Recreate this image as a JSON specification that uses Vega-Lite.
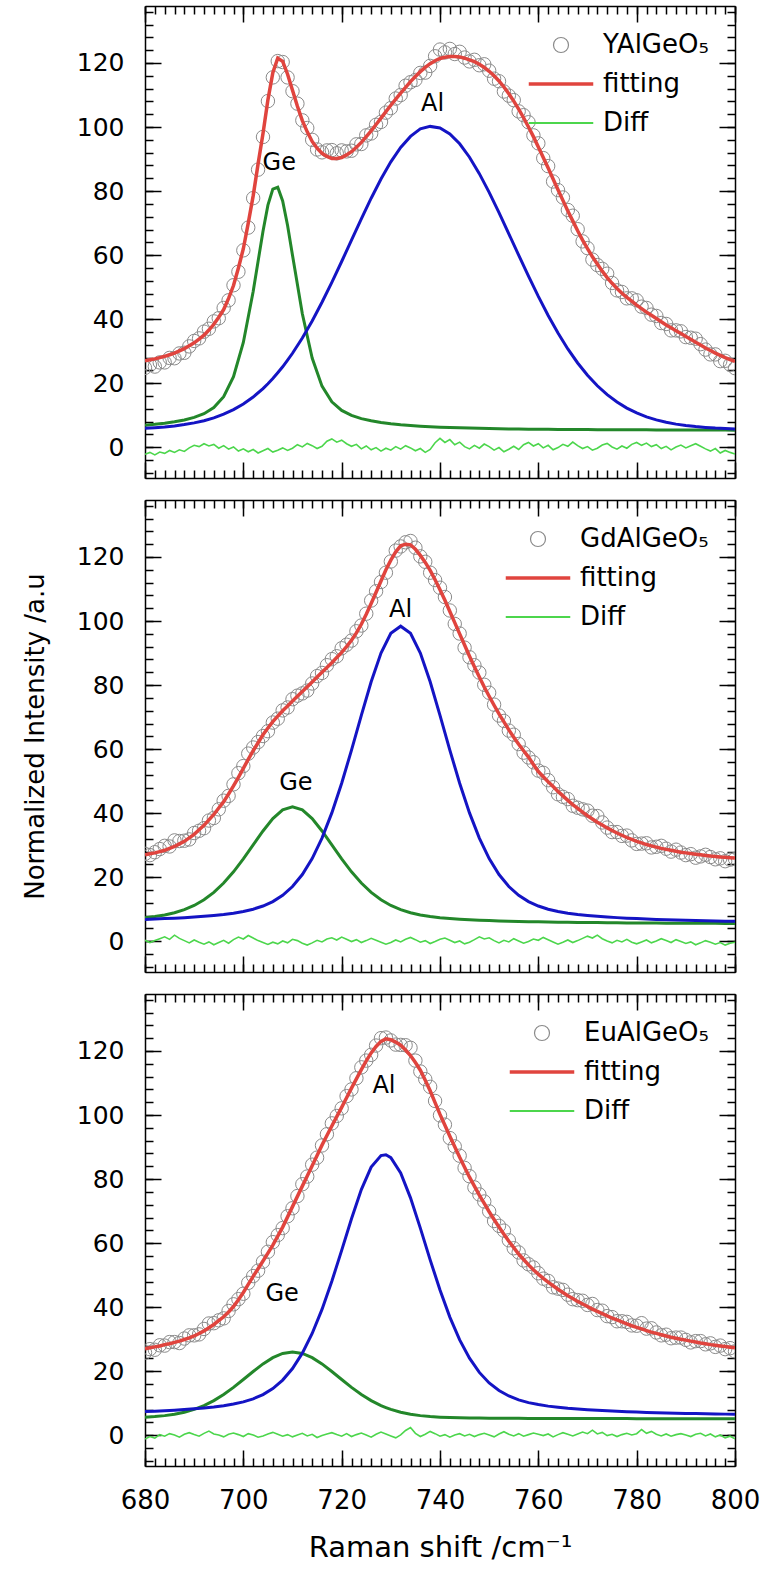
{
"$schema":"https://vega.github.io/schema/vega-lite/v6.json",
"background":"white",
"padding":{"left":22,"top":5,"right":5,"bottom":5},
"config":{
 "view":{"stroke":null},
 "font":"DejaVu Sans",
 "axis":{"domainColor":"#000","domainWidth":1.5,"tickColor":"#000","tickWidth":1.5,"grid":false,"labelFont":"DejaVu Sans","labelColor":"#000","titleFont":"DejaVu Sans","titleColor":"#000","titleFontWeight":"normal","labelFlush":false,"labelOverlap":false},
 "legend":{"labelFont":"DejaVu Sans","labelColor":"#000"}
},
"datasets":{
"p1":[
{"x":680,"o":24.8,"f":27.0,"d":-2.2},{"x":681,"o":25.7,"f":27.3,"d":-1.6},{"x":682,"o":25.2,"f":27.6,"d":-2.4},{"x":683,"o":26.5,"f":28.0,"d":-1.5},{"x":684,"o":26.5,"f":28.4,"d":-1.9},{"x":685,"o":27.9,"f":28.9,"d":-1.0},{"x":686,"o":27.8,"f":29.4,"d":-1.6},{"x":687,"o":29.3,"f":30.1,"d":-0.8},{"x":688,"o":29.5,"f":30.8,"d":-1.3},{"x":689,"o":31.5,"f":31.7,"d":-0.2},
{"x":690,"o":33.2,"f":32.6,"d":0.6},{"x":691,"o":34.0,"f":33.8,"d":0.2},{"x":692,"o":36.1,"f":35.0,"d":1.1},{"x":693,"o":37.0,"f":36.6,"d":0.4},{"x":694,"o":39.3,"f":38.4,"d":0.9},{"x":695,"o":40.3,"f":40.6,"d":-0.3},{"x":696,"o":43.5,"f":43.0,"d":0.5},{"x":697,"o":45.9,"f":46.5,"d":-0.6},{"x":698,"o":50.6,"f":50.5,"d":0.1},{"x":699,"o":54.8,"f":56.0,"d":-1.2},
{"x":700,"o":61.5,"f":62.0,"d":-0.5},{"x":701,"o":68.6,"f":70.0,"d":-1.4},{"x":702,"o":77.8,"f":78.5,"d":-0.7},{"x":703,"o":86.7,"f":88.5,"d":-1.8},{"x":704,"o":96.9,"f":98.0,"d":-1.1},{"x":705,"o":108.1,"f":108.5,"d":-0.4},{"x":706,"o":115.5,"f":117.0,"d":-1.5},{"x":707,"o":120.6,"f":121.5,"d":-0.9},{"x":708,"o":120.3,"f":120.5,"d":-0.2},{"x":709,"o":115.5,"f":116.5,"d":-1.0},
{"x":710,"o":111.2,"f":111.5,"d":-0.3},{"x":711,"o":107.3,"f":106.5,"d":0.8},{"x":712,"o":102.1,"f":102.0,"d":0.1},{"x":713,"o":99.7,"f":98.5,"d":1.2},{"x":714,"o":96.0,"f":95.5,"d":0.5},{"x":715,"o":93.0,"f":93.4,"d":-0.4},{"x":716,"o":92.1,"f":91.8,"d":0.3},{"x":717,"o":92.7,"f":90.8,"d":1.9},{"x":718,"o":92.8,"f":90.2,"d":2.6},{"x":719,"o":91.8,"f":90.2,"d":1.6},
{"x":720,"o":92.7,"f":90.5,"d":2.2},{"x":721,"o":92.4,"f":91.3,"d":1.1},{"x":722,"o":92.6,"f":92.3,"d":0.3},{"x":723,"o":94.6,"f":93.7,"d":0.9},{"x":724,"o":94.7,"f":95.2,"d":-0.5},{"x":725,"o":97.4,"f":97.0,"d":0.4},{"x":726,"o":98.0,"f":98.8,"d":-0.8},{"x":727,"o":100.7,"f":100.8,"d":-0.1},{"x":728,"o":101.6,"f":102.8,"d":-1.2},{"x":729,"o":104.5,"f":104.8,"d":-0.3},
{"x":730,"o":105.9,"f":106.8,"d":-0.9},{"x":731,"o":108.9,"f":108.7,"d":0.2},{"x":732,"o":110.0,"f":110.6,"d":-0.6},{"x":733,"o":112.9,"f":112.4,"d":0.5},{"x":734,"o":114.0,"f":114.2,"d":-0.2},{"x":735,"o":114.7,"f":115.8,"d":-1.1},{"x":736,"o":116.9,"f":117.3,"d":-0.4},{"x":737,"o":117.0,"f":118.6,"d":-1.6},{"x":738,"o":119.1,"f":119.8,"d":-0.7},{"x":739,"o":122.1,"f":120.7,"d":1.4},
{"x":740,"o":124.2,"f":121.4,"d":2.8},{"x":741,"o":123.3,"f":121.8,"d":1.5},{"x":742,"o":124.4,"f":122.0,"d":2.4},{"x":743,"o":122.8,"f":122.0,"d":0.8},{"x":744,"o":123.5,"f":121.9,"d":1.6},{"x":745,"o":121.7,"f":121.5,"d":0.2},{"x":746,"o":120.5,"f":121.0,"d":-0.5},{"x":747,"o":121.0,"f":120.4,"d":0.6},{"x":748,"o":119.3,"f":119.6,"d":-0.3},{"x":749,"o":119.6,"f":118.6,"d":1.0},
{"x":750,"o":117.6,"f":117.4,"d":0.2},{"x":751,"o":115.1,"f":116.0,"d":-0.9},{"x":752,"o":114.3,"f":114.4,"d":-0.1},{"x":753,"o":111.1,"f":112.5,"d":-1.4},{"x":754,"o":109.8,"f":110.4,"d":-0.6},{"x":755,"o":108.4,"f":108.1,"d":0.3},{"x":756,"o":104.9,"f":105.6,"d":-0.7},{"x":757,"o":103.7,"f":102.9,"d":0.8},{"x":758,"o":101.5,"f":100.0,"d":1.5},{"x":759,"o":97.4,"f":97.0,"d":0.4},
{"x":760,"o":94.9,"f":93.8,"d":1.1},{"x":761,"o":90.3,"f":90.5,"d":-0.2},{"x":762,"o":87.8,"f":87.2,"d":0.6},{"x":763,"o":83.0,"f":83.8,"d":-0.8},{"x":764,"o":80.3,"f":80.4,"d":-0.1},{"x":765,"o":78.0,"f":77.1,"d":0.9},{"x":766,"o":74.1,"f":73.8,"d":0.3},{"x":767,"o":72.3,"f":70.7,"d":1.6},{"x":768,"o":68.1,"f":67.6,"d":0.5},{"x":769,"o":64.3,"f":64.7,"d":-0.4},
{"x":770,"o":62.2,"f":62.0,"d":0.2},{"x":771,"o":58.6,"f":59.5,"d":-0.9},{"x":772,"o":56.9,"f":57.2,"d":-0.3},{"x":773,"o":55.7,"f":55.0,"d":0.7},{"x":774,"o":54.2,"f":53.0,"d":1.2},{"x":775,"o":51.3,"f":51.2,"d":0.1},{"x":776,"o":49.0,"f":49.6,"d":-0.6},{"x":777,"o":48.5,"f":48.1,"d":0.4},{"x":778,"o":46.5,"f":46.8,"d":-0.3},{"x":779,"o":46.5,"f":45.6,"d":0.9},
{"x":780,"o":45.9,"f":44.4,"d":1.5},{"x":781,"o":43.9,"f":43.3,"d":0.6},{"x":782,"o":43.5,"f":42.2,"d":1.3},{"x":783,"o":41.4,"f":41.2,"d":0.2},{"x":784,"o":41.0,"f":40.2,"d":0.8},{"x":785,"o":38.8,"f":39.2,"d":-0.4},{"x":786,"o":38.5,"f":38.2,"d":0.3},{"x":787,"o":36.5,"f":37.3,"d":-0.8},{"x":788,"o":36.5,"f":36.4,"d":0.1},{"x":789,"o":36.2,"f":35.5,"d":0.7},
{"x":790,"o":34.4,"f":34.6,"d":-0.2},{"x":791,"o":34.2,"f":33.7,"d":0.5},{"x":792,"o":33.9,"f":32.8,"d":1.1},{"x":793,"o":32.2,"f":31.9,"d":0.3},{"x":794,"o":30.5,"f":31.0,"d":-0.5},{"x":795,"o":29.0,"f":30.2,"d":-1.2},{"x":796,"o":29.0,"f":29.4,"d":-0.4},{"x":797,"o":26.9,"f":28.7,"d":-1.8},{"x":798,"o":27.0,"f":28.0,"d":-1.0},{"x":799,"o":25.8,"f":27.4,"d":-1.6},
{"x":800,"o":24.7,"f":26.8,"d":-2.1}
],
"c1":[
{"x":680,"g":6.89,"a":5.94},{"x":682,"g":7.16,"a":6.12},{"x":684,"g":7.50,"a":6.36},{"x":686,"g":7.94,"a":6.67},{"x":688,"g":8.53,"a":7.08},{"x":690,"g":9.32,"a":7.61},{"x":692,"g":10.49,"a":8.30},{"x":694,"g":12.38,"a":9.19},{"x":696,"g":15.79,"a":10.32},{"x":698,"g":22.03,"a":11.75},
{"x":700,"g":32.71,"a":13.51},{"x":702,"g":48.63,"a":15.69},{"x":704,"g":67.49,"a":18.33},{"x":705,"g":75.6,"a":19.85},{"x":706,"g":80.63,"a":21.45},{"x":707,"g":81.2,"a":23.25},{"x":708,"g":76.91,"a":25.13},{"x":709,"g":69.28,"a":27.2},{"x":710,"g":59.97,"a":29.35},{"x":712,"g":41.69,"a":34.13},
{"x":714,"g":27.84,"a":39.46},{"x":716,"g":19.09,"a":45.28},{"x":718,"g":14.17,"a":51.5},{"x":720,"g":11.5,"a":58.01},{"x":722,"g":9.95,"a":64.68},{"x":724,"g":8.95,"a":71.33},{"x":726,"g":8.27,"a":77.77},{"x":728,"g":7.75,"a":83.76},{"x":730,"g":7.36,"a":89.13},{"x":732,"g":7.04,"a":93.63},
{"x":734,"g":6.79,"a":97.08},{"x":736,"g":6.59,"a":99.42},{"x":738,"g":6.42,"a":100.2},{"x":740,"g":6.28,"a":99.7},{"x":742,"g":6.17,"a":97.87},{"x":744,"g":6.07,"a":94.78},{"x":746,"g":5.98,"a":90.58},{"x":748,"g":5.91,"a":85.44},{"x":750,"g":5.85,"a":79.61},{"x":752,"g":5.79,"a":73.28},
{"x":754,"g":5.74,"a":66.67},{"x":756,"g":5.70,"a":60.01},{"x":758,"g":5.66,"a":53.43},{"x":760,"g":5.63,"a":47.1},{"x":762,"g":5.60,"a":41.15},{"x":764,"g":5.58,"a":35.67},{"x":766,"g":5.55,"a":30.7},{"x":768,"g":5.53,"a":26.32},{"x":770,"g":5.51,"a":22.49},{"x":772,"g":5.50,"a":19.21},
{"x":774,"g":5.48,"a":16.43},{"x":776,"g":5.47,"a":14.12},{"x":778,"g":5.45,"a":12.23},{"x":780,"g":5.44,"a":10.71},{"x":782,"g":5.43,"a":9.49},{"x":784,"g":5.42,"a":8.54},{"x":786,"g":5.41,"a":7.79},{"x":788,"g":5.40,"a":7.22},{"x":790,"g":5.39,"a":6.78},{"x":792,"g":5.38,"a":6.45},
{"x":794,"g":5.37,"a":6.2},{"x":796,"g":5.37,"a":5.99},{"x":798,"g":5.36,"a":5.85},{"x":800,"g":5.35,"a":5.73}
],
"p2":[
{"x":680,"o":27.3,"f":27.0,"d":0.3},{"x":681,"o":26.9,"f":27.3,"d":-0.4},{"x":682,"o":27.8,"f":27.6,"d":0.2},{"x":683,"o":28.8,"f":28.0,"d":0.8},{"x":684,"o":29.8,"f":28.4,"d":1.4},{"x":685,"o":29.6,"f":29.0,"d":0.6},{"x":686,"o":31.5,"f":29.6,"d":1.9},{"x":687,"o":31.3,"f":30.4,"d":0.9},{"x":688,"o":31.4,"f":31.2,"d":0.2},{"x":689,"o":31.8,"f":32.3,"d":-0.5},
{"x":690,"o":33.8,"f":33.4,"d":0.4},{"x":691,"o":34.5,"f":34.8,"d":-0.3},{"x":692,"o":35.3,"f":36.2,"d":-0.9},{"x":693,"o":37.7,"f":37.9,"d":-0.2},{"x":694,"o":38.5,"f":39.6,"d":-1.1},{"x":695,"o":41.2,"f":41.6,"d":-0.4},{"x":696,"o":43.9,"f":43.6,"d":0.3},{"x":697,"o":45.4,"f":46.0,"d":-0.6},{"x":698,"o":49.0,"f":48.5,"d":0.5},{"x":699,"o":52.5,"f":51.2,"d":1.3},
{"x":700,"o":54.7,"f":54.0,"d":0.7},{"x":701,"o":58.6,"f":56.8,"d":1.8},{"x":702,"o":60.5,"f":59.5,"d":1.0},{"x":703,"o":62.2,"f":62.0,"d":0.2},{"x":704,"o":64.1,"f":64.5,"d":-0.4},{"x":705,"o":65.6,"f":66.6,"d":-1.0},{"x":706,"o":68.3,"f":68.6,"d":-0.3},{"x":707,"o":69.5,"f":70.3,"d":-0.8},{"x":708,"o":72.1,"f":72.0,"d":0.1},{"x":709,"o":73.0,"f":73.5,"d":-0.5},
{"x":710,"o":75.6,"f":75.0,"d":0.6},{"x":711,"o":76.7,"f":76.5,"d":0.2},{"x":712,"o":77.4,"f":78.0,"d":-0.6},{"x":713,"o":78.3,"f":79.5,"d":-1.2},{"x":714,"o":80.5,"f":81.0,"d":-0.5},{"x":715,"o":82.8,"f":82.5,"d":0.3},{"x":716,"o":83.8,"f":84.0,"d":-0.2},{"x":717,"o":86.2,"f":85.5,"d":0.7},{"x":718,"o":88.1,"f":87.0,"d":1.1},{"x":719,"o":89.0,"f":88.6,"d":0.4},
{"x":720,"o":91.5,"f":90.2,"d":1.3},{"x":721,"o":92.6,"f":92.0,"d":0.6},{"x":722,"o":93.9,"f":94.0,"d":-0.1},{"x":723,"o":96.8,"f":96.3,"d":0.5},{"x":724,"o":98.6,"f":99.0,"d":-0.4},{"x":725,"o":102.3,"f":102.1,"d":0.2},{"x":726,"o":106.4,"f":105.5,"d":0.9},{"x":727,"o":109.3,"f":109.0,"d":0.3},{"x":728,"o":112.2,"f":112.5,"d":-0.3},{"x":729,"o":115.1,"f":116.0,"d":-0.9},
{"x":730,"o":118.6,"f":119.0,"d":-0.4},{"x":731,"o":122.0,"f":121.6,"d":0.4},{"x":732,"o":123.3,"f":123.5,"d":-0.2},{"x":733,"o":124.6,"f":124.0,"d":0.6},{"x":734,"o":125.0,"f":123.8,"d":1.2},{"x":735,"o":122.9,"f":122.4,"d":0.5},{"x":736,"o":120.2,"f":120.5,"d":-0.3},{"x":737,"o":118.5,"f":118.3,"d":0.2},{"x":738,"o":115.1,"f":115.8,"d":-0.7},{"x":739,"o":112.8,"f":112.9,"d":-0.1},
{"x":740,"o":110.4,"f":109.8,"d":0.6},{"x":741,"o":107.5,"f":106.5,"d":1.0},{"x":742,"o":103.3,"f":103.0,"d":0.3},{"x":743,"o":99.1,"f":99.5,"d":-0.4},{"x":744,"o":96.1,"f":96.0,"d":0.1},{"x":745,"o":91.7,"f":92.5,"d":-0.8},{"x":746,"o":88.7,"f":89.0,"d":-0.3},{"x":747,"o":86.2,"f":85.7,"d":0.5},{"x":748,"o":83.9,"f":82.5,"d":1.4},{"x":749,"o":80.1,"f":79.4,"d":0.7},
{"x":750,"o":77.6,"f":76.5,"d":1.1},{"x":751,"o":73.9,"f":73.7,"d":0.2},{"x":752,"o":70.5,"f":71.0,"d":-0.5},{"x":753,"o":68.8,"f":68.5,"d":0.3},{"x":754,"o":65.8,"f":66.0,"d":-0.2},{"x":755,"o":64.5,"f":63.7,"d":0.8},{"x":756,"o":61.6,"f":61.5,"d":0.1},{"x":757,"o":58.9,"f":59.5,"d":-0.6},{"x":758,"o":57.4,"f":57.5,"d":-0.1},{"x":759,"o":55.9,"f":55.2,"d":0.7},
{"x":760,"o":53.3,"f":53.0,"d":0.3},{"x":761,"o":52.6,"f":51.4,"d":1.2},{"x":762,"o":50.3,"f":49.8,"d":0.5},{"x":763,"o":48.1,"f":48.3,"d":-0.2},{"x":764,"o":45.9,"f":46.8,"d":-0.9},{"x":765,"o":45.1,"f":45.4,"d":-0.3},{"x":766,"o":44.4,"f":44.0,"d":0.4},{"x":767,"o":42.3,"f":42.7,"d":-0.4},{"x":768,"o":41.7,"f":41.5,"d":0.2},{"x":769,"o":41.2,"f":40.3,"d":0.9},
{"x":770,"o":40.8,"f":39.2,"d":1.6},{"x":771,"o":39.2,"f":38.2,"d":1.0},{"x":772,"o":39.1,"f":37.2,"d":1.9},{"x":773,"o":37.1,"f":36.3,"d":0.8},{"x":774,"o":35.5,"f":35.4,"d":0.1},{"x":775,"o":34.1,"f":34.6,"d":-0.5},{"x":776,"o":34.1,"f":33.8,"d":0.3},{"x":777,"o":32.9,"f":33.1,"d":-0.2},{"x":778,"o":33.0,"f":32.4,"d":0.6},{"x":779,"o":31.5,"f":31.8,"d":-0.3},
{"x":780,"o":30.4,"f":31.2,"d":-0.8},{"x":781,"o":30.5,"f":30.7,"d":-0.2},{"x":782,"o":30.6,"f":30.2,"d":0.4},{"x":783,"o":29.3,"f":29.8,"d":-0.5},{"x":784,"o":29.5,"f":29.4,"d":0.1},{"x":785,"o":29.8,"f":29.0,"d":0.8},{"x":786,"o":28.9,"f":28.7,"d":0.2},{"x":787,"o":28.0,"f":28.4,"d":-0.4},{"x":788,"o":28.6,"f":28.1,"d":0.5},{"x":789,"o":27.7,"f":27.8,"d":-0.1},
{"x":790,"o":26.9,"f":27.6,"d":-0.7},{"x":791,"o":27.2,"f":27.4,"d":-0.2},{"x":792,"o":26.1,"f":27.2,"d":-1.1},{"x":793,"o":26.5,"f":27.0,"d":-0.5},{"x":794,"o":27.0,"f":26.8,"d":0.2},{"x":795,"o":26.3,"f":26.6,"d":-0.3},{"x":796,"o":25.6,"f":26.5,"d":-0.9},{"x":797,"o":25.9,"f":26.3,"d":-0.4},{"x":798,"o":25.0,"f":26.2,"d":-1.2},{"x":799,"o":25.5,"f":26.1,"d":-0.6},
{"x":800,"o":25.7,"f":26.0,"d":-0.3}
],
"c2":[
{"x":680,"g":7.37,"a":6.82},{"x":682,"g":7.74,"a":6.94},{"x":684,"g":8.23,"a":7.07},{"x":686,"g":8.91,"a":7.22},{"x":688,"g":9.87,"a":7.38},{"x":690,"g":11.18,"a":7.57},{"x":692,"g":12.95,"a":7.79},{"x":694,"g":15.26,"a":8.07},{"x":696,"g":18.17,"a":8.38},{"x":698,"g":21.69,"a":8.78},
{"x":700,"g":25.73,"a":9.31},{"x":702,"g":30.09,"a":10.01},{"x":704,"g":34.45,"a":11.0},{"x":706,"g":38.3,"a":12.39},{"x":708,"g":41.01,"a":14.34},{"x":710,"g":42.0,"a":17.09},{"x":712,"g":41.01,"a":20.83},{"x":714,"g":38.3,"a":25.83},{"x":716,"g":34.45,"a":32.22},{"x":718,"g":30.09,"a":40.09},
{"x":720,"g":25.73,"a":49.35},{"x":722,"g":21.69,"a":59.69},{"x":724,"g":18.17,"a":70.54},{"x":726,"g":15.26,"a":81.03},{"x":728,"g":12.95,"a":90.01},{"x":730,"g":11.18,"a":96.19},{"x":732,"g":9.87,"a":98.4},{"x":734,"g":8.91,"a":96.19},{"x":736,"g":8.23,"a":90.01},{"x":738,"g":7.74,"a":81.03},
{"x":740,"g":7.37,"a":70.54},{"x":742,"g":7.10,"a":59.69},{"x":744,"g":6.89,"a":49.35},{"x":746,"g":6.72,"a":40.09},{"x":748,"g":6.58,"a":32.22},{"x":750,"g":6.46,"a":25.83},{"x":752,"g":6.36,"a":20.83},{"x":754,"g":6.27,"a":17.09},{"x":756,"g":6.19,"a":14.34},{"x":758,"g":6.12,"a":12.39},
{"x":760,"g":6.06,"a":11.0},{"x":762,"g":6.01,"a":10.01},{"x":764,"g":5.96,"a":9.31},{"x":766,"g":5.92,"a":8.78},{"x":768,"g":5.88,"a":8.38},{"x":770,"g":5.85,"a":8.07},{"x":772,"g":5.82,"a":7.79},{"x":774,"g":5.79,"a":7.57},{"x":776,"g":5.76,"a":7.38},{"x":778,"g":5.74,"a":7.22},
{"x":780,"g":5.72,"a":7.07},{"x":782,"g":5.70,"a":6.94},{"x":784,"g":5.68,"a":6.82},{"x":786,"g":5.66,"a":6.71},{"x":788,"g":5.64,"a":6.62},{"x":790,"g":5.63,"a":6.53},{"x":792,"g":5.62,"a":6.46},{"x":794,"g":5.60,"a":6.39},{"x":796,"g":5.59,"a":6.33},{"x":798,"g":5.58,"a":6.27},
{"x":800,"g":5.57,"a":6.22}
],
"p3":[
{"x":680,"o":25.8,"f":27.0,"d":-1.2},{"x":681,"o":26.9,"f":27.3,"d":-0.4},{"x":682,"o":26.7,"f":27.6,"d":-0.9},{"x":683,"o":28.1,"f":27.9,"d":0.2},{"x":684,"o":28.0,"f":28.3,"d":-0.3},{"x":685,"o":29.1,"f":28.6,"d":0.5},{"x":686,"o":29.1,"f":29.0,"d":0.1},{"x":687,"o":28.8,"f":29.4,"d":-0.6},{"x":688,"o":30.2,"f":29.9,"d":0.3},{"x":689,"o":31.2,"f":30.4,"d":0.8},
{"x":690,"o":31.2,"f":31.0,"d":0.2},{"x":691,"o":31.5,"f":31.8,"d":-0.3},{"x":692,"o":33.2,"f":32.6,"d":0.6},{"x":693,"o":34.9,"f":33.6,"d":1.3},{"x":694,"o":35.0,"f":34.6,"d":0.4},{"x":695,"o":35.9,"f":35.8,"d":0.1},{"x":696,"o":36.5,"f":37.0,"d":-0.5},{"x":697,"o":38.8,"f":38.5,"d":0.3},{"x":698,"o":40.9,"f":40.2,"d":0.7},{"x":699,"o":42.5,"f":42.3,"d":0.2},
{"x":700,"o":44.2,"f":44.6,"d":-0.4},{"x":701,"o":47.6,"f":47.1,"d":0.5},{"x":702,"o":49.7,"f":49.6,"d":0.1},{"x":703,"o":51.4,"f":52.0,"d":-0.6},{"x":704,"o":54.2,"f":54.4,"d":-0.2},{"x":705,"o":57.3,"f":56.9,"d":0.4},{"x":706,"o":60.3,"f":59.4,"d":0.9},{"x":707,"o":62.5,"f":62.2,"d":0.3},{"x":708,"o":64.7,"f":65.0,"d":-0.3},{"x":709,"o":68.4,"f":68.2,"d":0.2},
{"x":710,"o":70.9,"f":71.4,"d":-0.5},{"x":711,"o":74.7,"f":74.6,"d":0.1},{"x":712,"o":78.4,"f":77.8,"d":0.6},{"x":713,"o":80.8,"f":81.0,"d":-0.2},{"x":714,"o":84.5,"f":84.2,"d":0.3},{"x":715,"o":86.7,"f":87.4,"d":-0.7},{"x":716,"o":90.5,"f":90.6,"d":-0.1},{"x":717,"o":94.0,"f":93.6,"d":0.4},{"x":718,"o":97.4,"f":96.6,"d":0.8},{"x":719,"o":99.7,"f":99.5,"d":0.2},
{"x":720,"o":102.1,"f":102.4,"d":-0.3},{"x":721,"o":105.9,"f":105.4,"d":0.5},{"x":722,"o":108.0,"f":108.4,"d":-0.4},{"x":723,"o":111.5,"f":111.3,"d":0.2},{"x":724,"o":114.9,"f":114.2,"d":0.7},{"x":725,"o":117.0,"f":116.9,"d":0.1},{"x":726,"o":118.8,"f":119.4,"d":-0.6},{"x":727,"o":121.7,"f":121.4,"d":0.3},{"x":728,"o":124.0,"f":123.0,"d":1.0},{"x":729,"o":124.2,"f":123.8,"d":0.4},
{"x":730,"o":123.3,"f":123.5,"d":-0.2},{"x":731,"o":122.0,"f":122.8,"d":-0.8},{"x":732,"o":121.9,"f":121.8,"d":0.1},{"x":733,"o":121.8,"f":120.3,"d":1.5},{"x":734,"o":121.0,"f":118.6,"d":2.4},{"x":735,"o":117.0,"f":116.4,"d":0.6},{"x":736,"o":113.6,"f":114.0,"d":-0.4},{"x":737,"o":111.2,"f":110.9,"d":0.3},{"x":738,"o":108.8,"f":107.6,"d":1.2},{"x":739,"o":104.4,"f":103.9,"d":0.5},
{"x":740,"o":99.9,"f":100.2,"d":-0.3},{"x":741,"o":97.0,"f":96.8,"d":0.2},{"x":742,"o":92.8,"f":93.4,"d":-0.6},{"x":743,"o":90.2,"f":90.1,"d":0.1},{"x":744,"o":87.3,"f":86.8,"d":0.5},{"x":745,"o":83.5,"f":83.7,"d":-0.2},{"x":746,"o":80.9,"f":80.6,"d":0.3},{"x":747,"o":77.4,"f":77.8,"d":-0.4},{"x":748,"o":75.2,"f":75.0,"d":0.2},{"x":749,"o":73.0,"f":72.4,"d":0.6},
{"x":750,"o":69.9,"f":69.8,"d":0.1},{"x":751,"o":66.9,"f":67.4,"d":-0.5},{"x":752,"o":65.4,"f":65.0,"d":0.4},{"x":753,"o":63.9,"f":62.8,"d":1.1},{"x":754,"o":60.9,"f":60.6,"d":0.3},{"x":755,"o":58.4,"f":58.6,"d":-0.2},{"x":756,"o":57.1,"f":56.6,"d":0.5},{"x":757,"o":54.6,"f":54.9,"d":-0.3},{"x":758,"o":53.4,"f":53.2,"d":0.2},{"x":759,"o":52.4,"f":51.7,"d":0.7},
{"x":760,"o":50.6,"f":50.3,"d":0.3},{"x":761,"o":48.9,"f":49.0,"d":-0.1},{"x":762,"o":48.2,"f":47.8,"d":0.4},{"x":763,"o":46.2,"f":46.7,"d":-0.5},{"x":764,"o":45.8,"f":45.6,"d":0.2},{"x":765,"o":45.4,"f":44.6,"d":0.8},{"x":766,"o":43.9,"f":43.6,"d":0.3},{"x":767,"o":42.5,"f":42.7,"d":-0.2},{"x":768,"o":42.2,"f":41.8,"d":0.4},{"x":769,"o":42.0,"f":41.0,"d":1.0},
{"x":770,"o":40.7,"f":40.2,"d":0.5},{"x":771,"o":41.0,"f":39.4,"d":1.6},{"x":772,"o":39.1,"f":38.7,"d":0.4},{"x":773,"o":38.9,"f":38.0,"d":0.9},{"x":774,"o":37.2,"f":37.3,"d":-0.1},{"x":775,"o":36.9,"f":36.6,"d":0.3},{"x":776,"o":35.6,"f":36.0,"d":-0.4},{"x":777,"o":35.6,"f":35.4,"d":0.2},{"x":778,"o":35.4,"f":34.8,"d":0.6},{"x":779,"o":34.3,"f":34.2,"d":0.1},
{"x":780,"o":34.2,"f":33.7,"d":0.5},{"x":781,"o":35.0,"f":33.2,"d":1.8},{"x":782,"o":33.3,"f":32.7,"d":0.6},{"x":783,"o":33.4,"f":32.2,"d":1.2},{"x":784,"o":32.1,"f":31.8,"d":0.3},{"x":785,"o":31.2,"f":31.4,"d":-0.2},{"x":786,"o":31.4,"f":31.0,"d":0.4},{"x":787,"o":30.3,"f":30.6,"d":-0.3},{"x":788,"o":30.5,"f":30.3,"d":0.2},{"x":789,"o":30.5,"f":30.0,"d":0.5},
{"x":790,"o":29.8,"f":29.7,"d":0.1},{"x":791,"o":29.0,"f":29.4,"d":-0.4},{"x":792,"o":29.4,"f":29.1,"d":0.3},{"x":793,"o":29.4,"f":28.8,"d":0.6},{"x":794,"o":28.4,"f":28.6,"d":-0.2},{"x":795,"o":28.7,"f":28.3,"d":0.4},{"x":796,"o":27.6,"f":28.1,"d":-0.5},{"x":797,"o":28.0,"f":27.9,"d":0.1},{"x":798,"o":26.9,"f":27.7,"d":-0.8},{"x":799,"o":27.2,"f":27.5,"d":-0.3},
{"x":800,"o":26.2,"f":27.3,"d":-1.1}
],
"c3":[
{"x":680,"g":5.66,"a":7.39},{"x":682,"g":5.84,"a":7.52},{"x":684,"g":6.13,"a":7.67},{"x":686,"g":6.55,"a":7.84},{"x":688,"g":7.18,"a":8.03},{"x":690,"g":8.06,"a":8.25},{"x":692,"g":9.26,"a":8.52},{"x":694,"g":10.81,"a":8.83},{"x":696,"g":12.72,"a":9.24},{"x":698,"g":14.95,"a":9.74},
{"x":700,"g":17.41,"a":10.43},{"x":702,"g":19.92,"a":11.37},{"x":704,"g":22.28,"a":12.7},{"x":706,"g":24.23,"a":14.59},{"x":708,"g":25.54,"a":17.23},{"x":710,"g":26.0,"a":20.83},{"x":712,"g":25.54,"a":25.64},{"x":714,"g":24.23,"a":31.78},{"x":716,"g":22.28,"a":39.31},{"x":718,"g":19.92,"a":48.09},
{"x":720,"g":17.41,"a":57.74},{"x":722,"g":14.95,"a":67.62},{"x":724,"g":12.72,"a":76.71},{"x":726,"g":10.81,"a":83.74},{"x":728,"g":9.26,"a":87.33},{"x":729,"g":8.65,"a":87.6},{"x":730,"g":8.06,"a":86.68},{"x":732,"g":7.18,"a":81.93},{"x":734,"g":6.55,"a":74.14},{"x":736,"g":6.13,"a":64.68},
{"x":738,"g":5.84,"a":54.78},{"x":740,"g":5.66,"a":45.35},{"x":742,"g":5.54,"a":36.9},{"x":744,"g":5.46,"a":29.78},{"x":746,"g":5.41,"a":24.06},{"x":748,"g":5.37,"a":19.63},{"x":750,"g":5.34,"a":16.34},{"x":752,"g":5.32,"a":13.96},{"x":754,"g":5.30,"a":12.26},{"x":756,"g":5.28,"a":11.06},
{"x":758,"g":5.27,"a":10.2},{"x":760,"g":5.26,"a":9.58},{"x":762,"g":5.25,"a":9.1},{"x":764,"g":5.24,"a":8.73},{"x":766,"g":5.23,"a":8.42},{"x":768,"g":5.22,"a":8.18},{"x":770,"g":5.22,"a":7.97},{"x":772,"g":5.21,"a":7.79},{"x":774,"g":5.21,"a":7.62},{"x":776,"g":5.20,"a":7.48},
{"x":778,"g":5.20,"a":7.35},{"x":780,"g":5.19,"a":7.24},{"x":782,"g":5.19,"a":7.13},{"x":784,"g":5.19,"a":7.04},{"x":786,"g":5.18,"a":6.96},{"x":788,"g":5.18,"a":6.89},{"x":790,"g":5.18,"a":6.82},{"x":792,"g":5.17,"a":6.76},{"x":794,"g":5.17,"a":6.7},{"x":796,"g":5.17,"a":6.65},
{"x":798,"g":5.17,"a":6.6},{"x":800,"g":5.16,"a":6.56}
]
},
"spacing":20,
"vconcat":[
{
 "width":590,"height":472,
 "resolve":{"axis":{"x":"independent","y":"independent"}},
 "layer":[
  {"data":{"name":"p1"},
   "mark":{"type":"point","filled":false,"size":180,"strokeWidth":1,"opacity":1,"clip":true},
   "encoding":{
    "x":{"field":"x","type":"quantitative","scale":{"domain":[680,800],"nice":false,"zero":false},"axis":{"orient":"bottom","values":[680,700,720,740,760,780,800],"tickSize":-16,"labels":false,"title":null}},
    "y":{"field":"o","type":"quantitative","scale":{"domain":[-9.6,137.8],"nice":false,"zero":false},"axis":{"orient":"left","values":[0,20,40,60,80,100,120],"tickSize":-16,"labelFontSize":25,"labelPadding":37,"title":null}},
    "stroke":{"datum":"YAlGeO₅","type":"nominal","scale":{"domain":["YAlGeO₅","fitting","Diff"],"range":["#8a8a8a","#e0443e","#4cd64c"]},
     "legend":{"title":null,"orient":"top-right","offset":26,"labelFontSize":26,"labelLimit":400,"symbolSize":225,"labelOffset":29,"rowPadding":13,
      "symbolType":{"expr":"datum.value === 'fitting' || datum.value === 'Diff' ? 'M-4.3,0H4.3' : 'circle'"},
      "symbolStrokeWidth":{"expr":"datum.value === 'fitting' ? 3.5 : datum.value === 'Diff' ? 1.8 : 1.2"},
      "symbolOpacity":1}}
   }},
  {"data":{"name":"c1"},
   "mark":{"type":"line","color":"#23872a","strokeWidth":3,"clip":true},
   "encoding":{
    "x":{"field":"x","type":"quantitative","scale":{"domain":[680,800],"nice":false,"zero":false},"axis":{"orient":"top","values":[680,700,720,740,760,780,800],"tickSize":-16,"labels":false,"title":null}},
    "y":{"field":"g","type":"quantitative","scale":{"domain":[-9.6,137.8],"nice":false,"zero":false},"axis":{"orient":"right","values":[0,20,40,60,80,100,120],"tickSize":-16,"labels":false,"title":null}}}},
  {"data":{"name":"c1"},
   "mark":{"type":"line","color":"#1414c4","strokeWidth":3,"clip":true},
   "encoding":{
    "x":{"field":"x","type":"quantitative","scale":{"domain":[680,800],"nice":false,"zero":false},"axis":{"orient":"bottom","values":[680,682,684,686,688,690,692,694,696,698,700,702,704,706,708,710,712,714,716,718,720,722,724,726,728,730,732,734,736,738,740,742,744,746,748,750,752,754,756,758,760,762,764,766,768,770,772,774,776,778,780,782,784,786,788,790,792,794,796,798,800],"tickSize":-8,"labels":false,"domain":false,"title":null}},
    "y":{"field":"a","type":"quantitative","scale":{"domain":[-9.6,137.8],"nice":false,"zero":false},"axis":{"orient":"left","values":[-8,-4,0,4,8,12,16,20,24,28,32,36,40,44,48,52,56,60,64,68,72,76,80,84,88,92,96,100,104,108,112,116,120,124,128,132,136],"tickSize":-8,"labels":false,"domain":false,"title":null}}}},
  {"data":{"name":"p1"},
   "mark":{"type":"line","strokeWidth":1.6,"clip":true},
   "encoding":{
    "x":{"field":"x","type":"quantitative","scale":{"domain":[680,800],"nice":false,"zero":false},"axis":{"orient":"top","values":[680,682,684,686,688,690,692,694,696,698,700,702,704,706,708,710,712,714,716,718,720,722,724,726,728,730,732,734,736,738,740,742,744,746,748,750,752,754,756,758,760,762,764,766,768,770,772,774,776,778,780,782,784,786,788,790,792,794,796,798,800],"tickSize":-8,"labels":false,"domain":false,"title":null}},
    "y":{"field":"d","type":"quantitative","scale":{"domain":[-9.6,137.8],"nice":false,"zero":false},"axis":{"orient":"right","values":[-8,-4,0,4,8,12,16,20,24,28,32,36,40,44,48,52,56,60,64,68,72,76,80,84,88,92,96,100,104,108,112,116,120,124,128,132,136],"tickSize":-8,"labels":false,"domain":false,"title":null}},
    "stroke":{"datum":"Diff","type":"nominal","scale":{"domain":["YAlGeO₅","fitting","Diff"],"range":["#8a8a8a","#e0443e","#4cd64c"]}}}},
  {"data":{"name":"p1"},
   "mark":{"type":"line","strokeWidth":3.5,"clip":true},
   "encoding":{
    "x":{"field":"x","type":"quantitative","scale":{"domain":[680,800],"nice":false,"zero":false},"axis":null},
    "y":{"field":"f","type":"quantitative","scale":{"domain":[-9.6,137.8],"nice":false,"zero":false},"axis":null},
    "stroke":{"datum":"fitting","type":"nominal","scale":{"domain":["YAlGeO₅","fitting","Diff"],"range":["#8a8a8a","#e0443e","#4cd64c"]}}}},
  {"data":{"values":[{"x":707.3,"y":88.9,"t":"Ge"},{"x":738.5,"y":107.1,"t":"Al"}]},
   "mark":{"type":"text","fontSize":24,"font":"DejaVu Sans","color":"#000","baseline":"middle","align":"center"},
   "encoding":{
    "x":{"field":"x","type":"quantitative","scale":{"domain":[680,800],"nice":false,"zero":false},"axis":null},
    "y":{"field":"y","type":"quantitative","scale":{"domain":[-9.6,137.8],"nice":false,"zero":false},"axis":null},
    "text":{"field":"t"}}}
 ]
},
{
 "width":590,"height":472,
 "resolve":{"axis":{"x":"independent","y":"independent"}},
 "layer":[
  {"data":{"name":"p2"},
   "mark":{"type":"point","filled":false,"size":180,"strokeWidth":1,"opacity":1,"clip":true},
   "encoding":{
    "x":{"field":"x","type":"quantitative","scale":{"domain":[680,800],"nice":false,"zero":false},"axis":{"orient":"bottom","values":[680,700,720,740,760,780,800],"tickSize":-16,"labels":false,"title":null}},
    "y":{"field":"o","type":"quantitative","scale":{"domain":[-9.6,137.8],"nice":false,"zero":false},"axis":{"orient":"left","values":[0,20,40,60,80,100,120],"tickSize":-16,"labelFontSize":25,"labelPadding":37,"title":"Normalized Intensity /a.u","titleFontSize":26,"titlePadding":28}},
    "stroke":{"datum":"GdAlGeO₅","type":"nominal","scale":{"domain":["GdAlGeO₅","fitting","Diff"],"range":["#8a8a8a","#e0443e","#4cd64c"]},
     "legend":{"title":null,"orient":"top-right","offset":26,"labelFontSize":26,"labelLimit":400,"symbolSize":225,"labelOffset":29,"rowPadding":13,
      "symbolType":{"expr":"datum.value === 'fitting' || datum.value === 'Diff' ? 'M-4.3,0H4.3' : 'circle'"},
      "symbolStrokeWidth":{"expr":"datum.value === 'fitting' ? 3.5 : datum.value === 'Diff' ? 1.8 : 1.2"},
      "symbolOpacity":1}}
   }},
  {"data":{"name":"c2"},
   "mark":{"type":"line","color":"#23872a","strokeWidth":3,"clip":true},
   "encoding":{
    "x":{"field":"x","type":"quantitative","scale":{"domain":[680,800],"nice":false,"zero":false},"axis":{"orient":"top","values":[680,700,720,740,760,780,800],"tickSize":-16,"labels":false,"title":null}},
    "y":{"field":"g","type":"quantitative","scale":{"domain":[-9.6,137.8],"nice":false,"zero":false},"axis":{"orient":"right","values":[0,20,40,60,80,100,120],"tickSize":-16,"labels":false,"title":null}}}},
  {"data":{"name":"c2"},
   "mark":{"type":"line","color":"#1414c4","strokeWidth":3,"clip":true},
   "encoding":{
    "x":{"field":"x","type":"quantitative","scale":{"domain":[680,800],"nice":false,"zero":false},"axis":{"orient":"bottom","values":[680,682,684,686,688,690,692,694,696,698,700,702,704,706,708,710,712,714,716,718,720,722,724,726,728,730,732,734,736,738,740,742,744,746,748,750,752,754,756,758,760,762,764,766,768,770,772,774,776,778,780,782,784,786,788,790,792,794,796,798,800],"tickSize":-8,"labels":false,"domain":false,"title":null}},
    "y":{"field":"a","type":"quantitative","scale":{"domain":[-9.6,137.8],"nice":false,"zero":false},"axis":{"orient":"left","values":[-8,-4,0,4,8,12,16,20,24,28,32,36,40,44,48,52,56,60,64,68,72,76,80,84,88,92,96,100,104,108,112,116,120,124,128,132,136],"tickSize":-8,"labels":false,"domain":false,"title":null}}}},
  {"data":{"name":"p2"},
   "mark":{"type":"line","strokeWidth":1.6,"clip":true},
   "encoding":{
    "x":{"field":"x","type":"quantitative","scale":{"domain":[680,800],"nice":false,"zero":false},"axis":{"orient":"top","values":[680,682,684,686,688,690,692,694,696,698,700,702,704,706,708,710,712,714,716,718,720,722,724,726,728,730,732,734,736,738,740,742,744,746,748,750,752,754,756,758,760,762,764,766,768,770,772,774,776,778,780,782,784,786,788,790,792,794,796,798,800],"tickSize":-8,"labels":false,"domain":false,"title":null}},
    "y":{"field":"d","type":"quantitative","scale":{"domain":[-9.6,137.8],"nice":false,"zero":false},"axis":{"orient":"right","values":[-8,-4,0,4,8,12,16,20,24,28,32,36,40,44,48,52,56,60,64,68,72,76,80,84,88,92,96,100,104,108,112,116,120,124,128,132,136],"tickSize":-8,"labels":false,"domain":false,"title":null}},
    "stroke":{"datum":"Diff","type":"nominal","scale":{"domain":["GdAlGeO₅","fitting","Diff"],"range":["#8a8a8a","#e0443e","#4cd64c"]}}}},
  {"data":{"name":"p2"},
   "mark":{"type":"line","strokeWidth":3.5,"clip":true},
   "encoding":{
    "x":{"field":"x","type":"quantitative","scale":{"domain":[680,800],"nice":false,"zero":false},"axis":null},
    "y":{"field":"f","type":"quantitative","scale":{"domain":[-9.6,137.8],"nice":false,"zero":false},"axis":null},
    "stroke":{"datum":"fitting","type":"nominal","scale":{"domain":["GdAlGeO₅","fitting","Diff"],"range":["#8a8a8a","#e0443e","#4cd64c"]}}}},
  {"data":{"values":[{"x":710.7,"y":49.5,"t":"Ge"},{"x":732,"y":103.6,"t":"Al"}]},
   "mark":{"type":"text","fontSize":24,"font":"DejaVu Sans","color":"#000","baseline":"middle","align":"center"},
   "encoding":{
    "x":{"field":"x","type":"quantitative","scale":{"domain":[680,800],"nice":false,"zero":false},"axis":null},
    "y":{"field":"y","type":"quantitative","scale":{"domain":[-9.6,137.8],"nice":false,"zero":false},"axis":null},
    "text":{"field":"t"}}}
 ]
},
{
 "width":590,"height":472,
 "resolve":{"axis":{"x":"independent","y":"independent"}},
 "layer":[
  {"data":{"name":"p3"},
   "mark":{"type":"point","filled":false,"size":180,"strokeWidth":1,"opacity":1,"clip":true},
   "encoding":{
    "x":{"field":"x","type":"quantitative","scale":{"domain":[680,800],"nice":false,"zero":false},"axis":{"orient":"bottom","values":[680,700,720,740,760,780,800],"tickSize":-16,"labelFontSize":26,"labelPadding":37,"title":"Raman shift /cm⁻¹","titleFontSize":29,"titlePadding":20}},
    "y":{"field":"o","type":"quantitative","scale":{"domain":[-9.6,137.8],"nice":false,"zero":false},"axis":{"orient":"left","values":[0,20,40,60,80,100,120],"tickSize":-16,"labelFontSize":25,"labelPadding":37,"title":null}},
    "stroke":{"datum":"EuAlGeO₅","type":"nominal","scale":{"domain":["EuAlGeO₅","fitting","Diff"],"range":["#8a8a8a","#e0443e","#4cd64c"]},
     "legend":{"title":null,"orient":"top-right","offset":26,"labelFontSize":26,"labelLimit":400,"symbolSize":225,"labelOffset":29,"rowPadding":13,
      "symbolType":{"expr":"datum.value === 'fitting' || datum.value === 'Diff' ? 'M-4.3,0H4.3' : 'circle'"},
      "symbolStrokeWidth":{"expr":"datum.value === 'fitting' ? 3.5 : datum.value === 'Diff' ? 1.8 : 1.2"},
      "symbolOpacity":1}}
   }},
  {"data":{"name":"c3"},
   "mark":{"type":"line","color":"#23872a","strokeWidth":3,"clip":true},
   "encoding":{
    "x":{"field":"x","type":"quantitative","scale":{"domain":[680,800],"nice":false,"zero":false},"axis":{"orient":"top","values":[680,700,720,740,760,780,800],"tickSize":-16,"labels":false,"title":null}},
    "y":{"field":"g","type":"quantitative","scale":{"domain":[-9.6,137.8],"nice":false,"zero":false},"axis":{"orient":"right","values":[0,20,40,60,80,100,120],"tickSize":-16,"labels":false,"title":null}}}},
  {"data":{"name":"c3"},
   "mark":{"type":"line","color":"#1414c4","strokeWidth":3,"clip":true},
   "encoding":{
    "x":{"field":"x","type":"quantitative","scale":{"domain":[680,800],"nice":false,"zero":false},"axis":{"orient":"bottom","values":[680,682,684,686,688,690,692,694,696,698,700,702,704,706,708,710,712,714,716,718,720,722,724,726,728,730,732,734,736,738,740,742,744,746,748,750,752,754,756,758,760,762,764,766,768,770,772,774,776,778,780,782,784,786,788,790,792,794,796,798,800],"tickSize":-8,"labels":false,"domain":false,"title":null}},
    "y":{"field":"a","type":"quantitative","scale":{"domain":[-9.6,137.8],"nice":false,"zero":false},"axis":{"orient":"left","values":[-8,-4,0,4,8,12,16,20,24,28,32,36,40,44,48,52,56,60,64,68,72,76,80,84,88,92,96,100,104,108,112,116,120,124,128,132,136],"tickSize":-8,"labels":false,"domain":false,"title":null}}}},
  {"data":{"name":"p3"},
   "mark":{"type":"line","strokeWidth":1.6,"clip":true},
   "encoding":{
    "x":{"field":"x","type":"quantitative","scale":{"domain":[680,800],"nice":false,"zero":false},"axis":{"orient":"top","values":[680,682,684,686,688,690,692,694,696,698,700,702,704,706,708,710,712,714,716,718,720,722,724,726,728,730,732,734,736,738,740,742,744,746,748,750,752,754,756,758,760,762,764,766,768,770,772,774,776,778,780,782,784,786,788,790,792,794,796,798,800],"tickSize":-8,"labels":false,"domain":false,"title":null}},
    "y":{"field":"d","type":"quantitative","scale":{"domain":[-9.6,137.8],"nice":false,"zero":false},"axis":{"orient":"right","values":[-8,-4,0,4,8,12,16,20,24,28,32,36,40,44,48,52,56,60,64,68,72,76,80,84,88,92,96,100,104,108,112,116,120,124,128,132,136],"tickSize":-8,"labels":false,"domain":false,"title":null}},
    "stroke":{"datum":"Diff","type":"nominal","scale":{"domain":["EuAlGeO₅","fitting","Diff"],"range":["#8a8a8a","#e0443e","#4cd64c"]}}}},
  {"data":{"name":"p3"},
   "mark":{"type":"line","strokeWidth":3.5,"clip":true},
   "encoding":{
    "x":{"field":"x","type":"quantitative","scale":{"domain":[680,800],"nice":false,"zero":false},"axis":null},
    "y":{"field":"f","type":"quantitative","scale":{"domain":[-9.6,137.8],"nice":false,"zero":false},"axis":null},
    "stroke":{"datum":"fitting","type":"nominal","scale":{"domain":["EuAlGeO₅","fitting","Diff"],"range":["#8a8a8a","#e0443e","#4cd64c"]}}}},
  {"data":{"values":[{"x":707.9,"y":44,"t":"Ge"},{"x":728.6,"y":109,"t":"Al"}]},
   "mark":{"type":"text","fontSize":24,"font":"DejaVu Sans","color":"#000","baseline":"middle","align":"center"},
   "encoding":{
    "x":{"field":"x","type":"quantitative","scale":{"domain":[680,800],"nice":false,"zero":false},"axis":null},
    "y":{"field":"y","type":"quantitative","scale":{"domain":[-9.6,137.8],"nice":false,"zero":false},"axis":null},
    "text":{"field":"t"}}}
 ]
}
],
"resolve":{"scale":{"x":"independent","y":"independent","stroke":"independent"},"legend":{"stroke":"independent"}}
}
